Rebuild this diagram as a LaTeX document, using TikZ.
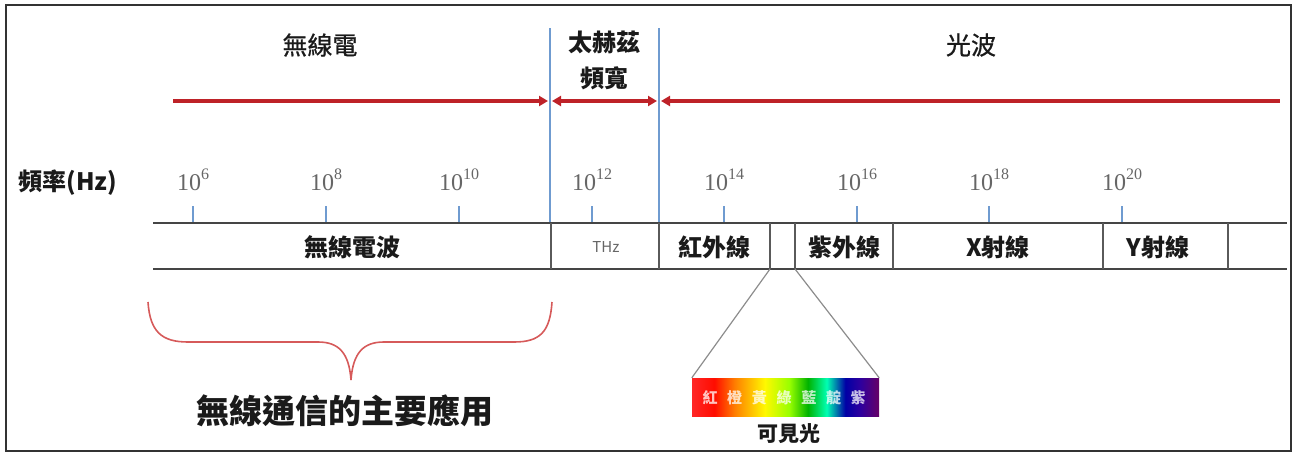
\documentclass[tikz,border=0pt]{standalone}
\usepackage{fontspec}
\setmainfont{Liberation Serif}
\newfontfamily\cjk{Noto Sans CJK TC}
\newfontfamily\cjkm[FakeBold=0.8]{Noto Sans CJK TC}
\usetikzlibrary{arrows.meta}
\definecolor{arrowred}{HTML}{BE2228}
\definecolor{bracered}{HTML}{D65A5A}
\definecolor{lineblue}{HTML}{6F9BD0}
\definecolor{bargray}{HTML}{454545}
\definecolor{divgray}{HTML}{5A5A5A}
\definecolor{expgray}{HTML}{666666}
\definecolor{txt}{HTML}{1A1A1A}
\pgfdeclarehorizontalshading{spectrum}{100bp}{%
color(0bp)=(red!85!white);
color(25bp)=(red!85!white);
color(31bp)=(red!90!orange);
color(36.5bp)=(orange);
color(44.5bp)=(yellow!95!orange);
color(51bp)=(yellow!60!green);
color(56bp)=(green!70!black);
color(61bp)=(cyan!70!green);
color(66bp)=(blue!65!black);
color(70bp)=(blue!55!violet!80!black);
color(75bp)=(violet!80!black);
color(100bp)=(violet!80!black)}
\tikzset{
  frame/.style={draw=black!80, line width=1.6pt},
  title/.style={inner sep=0pt, text=txt, font=\cjkm\fontsize{25}{25}\selectfont},
  titleb/.style={inner sep=0pt, text=txt, font=\cjk\bfseries\fontsize{24}{24}\selectfont},
  barlab/.style={inner sep=0pt, text=txt, font=\cjk\bfseries\fontsize{24}{24}\selectfont},
  thzlab/.style={inner sep=0pt, text=black!60, font=\cjk\fontsize{15}{15}\selectfont},
  expo/.style={inner sep=0pt, anchor=base, text=expgray, font=\fontsize{24}{24}\selectfont},
  redline/.style={draw=arrowred, line width=3.6pt},
  blueline/.style={draw=lineblue, line width=1.8pt},
  tickline/.style={draw=lineblue, line width=1.8pt},
  barline/.style={draw=bargray, line width=2.4pt},
  divline/.style={draw=divgray, line width=1.6pt},
  bracestyle/.style={draw=bracered, line width=1.6pt},
  zoomline/.style={draw=black!45, line width=1.2pt},
  spec/.style={inner sep=0pt, minimum width=187pt, minimum height=38pt, shading=spectrum},
  spectxt/.style={inner sep=0pt, text=white, opacity=0.75, font=\cjk\bfseries\fontsize{15}{15}\selectfont},
}
\begin{document}
\begin{tikzpicture}[x=1pt,y=-1pt]
\useasboundingbox (0,0) rectangle (1293,453);
\draw[frame] (6,5) rectangle (1291,451);

% top titles
\node[title] (radio) at (320,45) {無線電};
\node[titleb] (thzA) at (604,42) {太赫茲};
\node[titleb] (thzB) at (604,78) {頻寬};
\node[title] (lightw) at (971,45) {光波};

% blue vertical boundaries
\coordinate (b1t) at (550,28); \coordinate (b1b) at (550,223);
\coordinate (b2t) at (659,28); \coordinate (b2b) at (659,223);
\draw[blueline] (b1t) -- (b1b);
\draw[blueline] (b2t) -- (b2b);

% red range arrows
\coordinate (r0) at (173,101); \coordinate (r1) at (548,101);
\coordinate (r2) at (552,101); \coordinate (r3) at (657,101);
\coordinate (r4) at (661,101); \coordinate (r5) at (1280,101);
\draw[redline, -{Triangle[length=9pt,width=10pt]}] (r0) -- (r1);
\draw[redline, {Triangle[length=9pt,width=10pt]}-{Triangle[length=9pt,width=10pt]}] (r2) -- (r3);
\draw[redline, {Triangle[length=9pt,width=10pt]}-] (r4) -- (r5);

% frequency label
\node[barlab] (freq) at (68,183) {頻率(Hz)};

% exponent labels and ticks
\foreach \x/\e [count=\i] in {193/6,326/8,459/10,592/12,724/14,857/16,989/18,1122/20} {
  \node[expo] (e\i) at (\x,190) {10\raisebox{0.42em}{\fontsize{16}{16}\selectfont\e}};
  \coordinate (t\i a) at (\x,206);
  \coordinate (t\i b) at (\x,222);
  \draw[tickline] (t\i a) -- (t\i b);
}

% bar
\coordinate (bl1) at (153,223); \coordinate (br1) at (1287,223);
\coordinate (bl2) at (153,269); \coordinate (br2) at (1287,269);
\draw[barline] (bl1) -- (br1);
\draw[barline] (bl2) -- (br2);
\foreach \x [count=\i] in {551,659,770,795,893,1103,1228} {
  \coordinate (d\i a) at (\x,223);
  \coordinate (d\i b) at (\x,269);
  \draw[divline] (d\i a) -- (d\i b);
}

% bar labels
\node[barlab] (radiow) at (352,247) {無線電波};
\node[thzlab] (thz) at (606,247) {THz};
\node[barlab] (ir) at (714,247) {紅外線};
\node[barlab] (uv) at (844,247) {紫外線};
\node[barlab] (xray) at (998,247) {X射線};
\node[barlab] (gray) at (1158,247) {Y射線};

% brace
\coordinate (brL) at (148,302);
\coordinate (brM) at (351,380);
\coordinate (brR) at (552,302);
\draw[bracestyle] (brL) .. controls (150,332) and (162,342) .. (188,342)
  -- (318,342) .. controls (338,342) and (349,352) .. (brM);
\draw[bracestyle] (brM) .. controls (353,352) and (364,342) .. (384,342)
  -- (514,342) .. controls (540,342) and (550,332) .. (brR);
\node[inner sep=0pt, text=txt, font=\cjk\bfseries\fontsize{33}{33}\selectfont] (app) at (345,411) {無線通信的主要應用};

% visible light
\node[spec] (vis) at (785.5,397) {};
\draw[zoomline] (d3b) -- (vis.north west);
\draw[zoomline] (d4b) -- (vis.north east);
\foreach \c [count=\i] in {紅,橙,黃,綠,藍,靛,紫} {
  \node[spectxt] (s\i) at ({710+24.7*(\i-1)},398) {\c};
}
\node[inner sep=0pt, text=txt, font=\cjk\bfseries\fontsize{21}{21}\selectfont] (visl) at (789,434) {可見光};
\end{tikzpicture}
\end{document}
